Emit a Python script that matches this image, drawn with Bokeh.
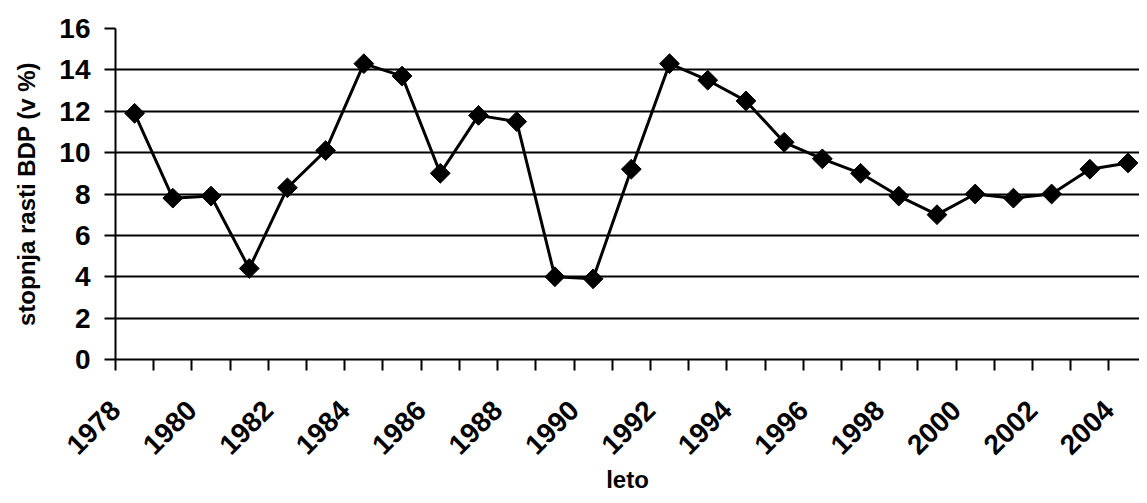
import numpy as np
from bokeh.plotting import figure
from bokeh.models import Range1d, FixedTicker, ColumnDataSource
from bokeh.embed import file_html
from bokeh.resources import INLINE

# ---- data ----
years = list(range(1978, 2005))
growth = [11.9, 7.8, 7.9, 4.4, 8.3, 10.1, 14.3, 13.7, 9.0, 11.8, 11.5, 4.0, 3.9,
          9.2, 14.3, 13.5, 12.5, 10.5, 9.7, 9.0, 7.9, 7.0, 8.0, 7.8, 8.0, 9.2, 9.5]
label_years = list(range(1978, 2005, 2))
y_ticks = list(range(0, 17, 2))
x_title = "leto"
y_title = "stopnja rasti BDP (v %)"

FONT = "Liberation Sans"

src = ColumnDataSource(dict(x=years, y=growth))

p = figure(width=1139, height=495, output_backend="svg", toolbar_location=None,
           x_range=Range1d(1977.5, 2004.3), y_range=Range1d(0, 16),
           min_border_left=115, min_border_right=0, min_border_top=28,
           min_border_bottom=136)
p.outline_line_color = None
p.background_fill_color = "white"
p.border_fill_color = "white"

p.line("x", "y", source=src, line_color="black", line_width=3)
p.scatter("x", "y", source=src, marker="square", angle=np.pi / 4, size=14,
          fill_color="black", line_color="black", line_width=1)

# y axis
p.yaxis.ticker = FixedTicker(ticks=y_ticks)
p.yaxis.axis_line_width = 2
p.yaxis.axis_line_color = "black"
p.yaxis.major_tick_out = 11
p.yaxis.major_tick_in = 0
p.yaxis.major_tick_line_width = 2
p.yaxis.major_tick_line_color = "black"
p.yaxis.minor_tick_out = 0
p.yaxis.minor_tick_in = 0
p.yaxis.major_label_text_font = FONT
p.yaxis.major_label_text_font_style = "bold"
p.yaxis.major_label_text_font_size = "28px"
p.yaxis.major_label_text_color = "black"
p.yaxis.major_label_standoff = 14
p.yaxis.axis_label = y_title
p.yaxis.axis_label_text_font = FONT
p.yaxis.axis_label_text_font_style = "bold"
p.yaxis.axis_label_text_font_size = "24px"
p.yaxis.axis_label_text_color = "black"
p.yaxis.axis_label_standoff = 16

# x axis: rotated year labels every 2 years (right end at the category's left edge),
# small tick marks at every category boundary
label_pos = [y - 0.5 for y in label_years]
p.xaxis.ticker = FixedTicker(ticks=label_pos,
                             minor_ticks=[y - 0.5 for y in years] + [years[-1] + 0.5])
p.xaxis.major_label_overrides = {t: str(y) for t, y in zip(label_pos, label_years)}
p.xaxis.axis_line_width = 2
p.xaxis.axis_line_color = "black"
p.xaxis.major_tick_out = 0
p.xaxis.major_tick_in = 0
p.xaxis.minor_tick_out = 11
p.xaxis.minor_tick_in = 0
p.xaxis.minor_tick_line_width = 2
p.xaxis.minor_tick_line_color = "black"
p.xaxis.major_label_orientation = np.pi / 4
p.xaxis.major_label_text_font = FONT
p.xaxis.major_label_text_font_style = "bold"
p.xaxis.major_label_text_font_size = "28px"
p.xaxis.major_label_text_color = "black"
p.xaxis.major_label_standoff = 35
p.xaxis.axis_label = x_title
p.xaxis.axis_label_text_font = FONT
p.xaxis.axis_label_text_font_style = "bold"
p.xaxis.axis_label_text_font_size = "24px"
p.xaxis.axis_label_text_color = "black"
p.xaxis.axis_label_standoff = 0

p.xgrid.visible = False
p.ygrid.ticker = FixedTicker(ticks=y_ticks)
p.ygrid.grid_line_color = "black"
p.ygrid.grid_line_width = 2

open("out.html", "w").write(file_html(p, INLINE))
